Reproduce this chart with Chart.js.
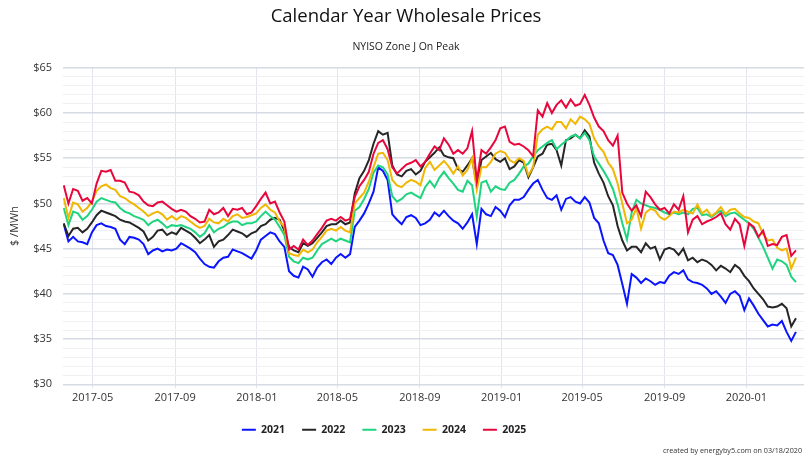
<!DOCTYPE html>
<html>
<head>
<meta charset="utf-8">
<script src="https://cdn.jsdelivr.net/npm/chart.js@4.4.1/dist/chart.umd.min.js"></script>
<style>
  html, body { margin: 0; padding: 0; background: #fff; }
  #wrap { position: relative; width: 812px; height: 456px; }
  #credits {
    position: absolute; right: 10px; bottom: 1px;
    font: 7.2px "Open Sans", sans-serif; color: #333;
  }
</style>
</head>
<body>
<div id="wrap">
  <canvas id="chart" width="812" height="456"></canvas>
  <div id="credits">created by energyby5.com on 03/18/2020</div>
</div>
<script>
// weekly samples, first one on 2017-03-19
const firstDate = '2017-03-19';
const stepDays = 7;
const seriesNames = ['2021', '2022', '2023', '2024', '2025'];
const seriesColors = ['#0a14ff', '#262626', '#1fd47f', '#f0b705', '#e8073d'];
const xTickLabels = ['2017-05', '2017-09', '2018-01', '2018-05', '2018-09', '2019-01', '2019-05', '2019-09', '2020-01'];
const yTickValues = [30, 35, 40, 45, 50, 55, 60, 65];

const cy2021 = [
  47.7, 45.8, 46.3, 45.8, 45.7, 45.5, 46.8, 47.6, 47.8, 47.5, 47.4, 47.2, 46.0, 45.5, 46.3, 46.2, 46.0, 45.5, 44.4, 44.8, 45.0, 44.7, 44.9, 44.8, 45.0,
  45.6, 45.3, 45.0, 44.6, 43.9, 43.3, 43.0, 42.9, 43.6, 44.0, 44.1, 44.9, 44.7, 44.5, 44.2, 43.9, 44.8, 46.0, 46.4, 46.8, 46.6, 45.8, 45.2, 42.5, 42.0, 41.8,
  43.0, 42.7, 41.9, 42.9, 43.5, 43.8, 43.3, 44.0, 44.4, 44.0, 44.4, 47.4, 48.1, 48.9, 50.0, 51.3, 54.0, 53.6, 52.6, 48.8, 48.2, 47.7, 48.5, 48.7, 48.4, 47.6,
  47.8, 48.2, 49.0, 48.6, 49.2, 48.6, 48.1, 47.8, 47.2, 47.9, 48.8, 45.5, 49.4, 48.8, 48.6, 49.6, 49.2, 48.5, 49.8, 50.4, 50.4, 50.7, 51.5, 52.2, 52.6, 51.5,
  50.6, 50.4, 50.9, 49.3, 50.5, 50.7, 50.2, 50.0, 50.7, 50.1, 48.4, 47.8, 45.9, 44.5, 44.3, 43.2, 41.1, 38.9, 42.2, 41.8, 41.2, 41.7, 41.4, 41.0, 41.3, 41.2, 42.0,
  42.4, 42.2, 42.6, 41.6, 41.3, 41.2, 41.0, 40.6, 40.0, 40.3, 39.7, 39.0, 40.0, 40.3, 39.8, 38.2, 39.5, 38.7, 37.8, 37.1, 36.4, 36.6, 36.5, 37.0, 35.8, 34.8, 35.8
];
const cy2022 = [
  47.8, 46.4, 47.2, 47.3, 46.8, 47.2, 47.9, 48.7, 49.2, 49.0, 48.8, 48.6, 48.2, 48.0, 47.9, 47.6, 47.3, 46.9, 45.9, 46.3, 47.0, 47.1, 46.5, 46.8, 46.6,
  47.3, 47.0, 46.7, 46.2, 45.6, 46.0, 46.5, 45.2, 45.8, 46.0, 46.5, 47.1, 46.9, 46.7, 46.3, 46.7, 46.9, 47.5, 47.7, 48.2, 48.4, 48.2, 47.0, 45.2, 44.8, 44.6,
  45.6, 45.3, 45.6, 46.2, 46.8, 47.5, 47.7, 47.7, 48.1, 47.7, 47.9, 51.1, 52.8, 53.6, 54.8, 56.6, 58.0, 57.6, 57.8, 54.2, 53.2, 53.0, 53.6, 53.8, 53.2, 53.6,
  54.6, 55.1, 55.6, 56.2, 55.3, 55.1, 55.0, 53.8, 53.5, 54.2, 55.0, 52.0, 54.8, 55.2, 55.6, 54.9, 54.6, 55.0, 53.8, 54.1, 54.8, 54.5, 52.9, 54.0, 55.2, 55.5,
  56.5, 56.6, 55.9, 54.2, 57.0, 57.2, 57.6, 57.2, 58.1, 57.4, 54.5, 53.3, 52.3, 50.8, 49.8, 47.5, 45.9, 44.8, 45.2, 45.2, 44.6, 45.6, 45.0, 45.2, 43.8, 44.9, 45.1,
  44.9, 44.3, 45.0, 43.7, 44.0, 43.5, 43.8, 43.6, 43.2, 42.6, 43.1, 42.8, 42.4, 43.2, 42.8, 42.0, 41.4, 40.6, 40.0, 39.4, 38.6, 38.5, 38.6, 38.9, 38.4, 36.4, 37.3
];
const cy2023 = [
  49.5, 47.6, 49.1, 48.9, 48.2, 48.6, 49.3, 50.2, 50.6, 50.4, 50.2, 50.1, 49.5, 49.1, 48.9, 48.6, 48.4, 48.2, 47.6, 48.0, 48.2, 47.8, 47.3, 47.6, 47.5,
  47.6, 47.4, 47.2, 46.8, 46.3, 46.7, 47.6, 46.8, 47.2, 47.4, 47.8, 48.0, 48.0, 47.6, 47.8, 47.8, 48.0, 48.6, 49.1, 48.6, 48.2, 47.4, 46.5, 44.1, 43.6, 43.4,
  44.0, 43.8, 44.0, 44.8, 45.5, 45.8, 46.1, 45.8, 46.1, 45.9, 45.7, 49.2, 49.6, 50.5, 51.6, 53.4, 54.2, 54.0, 53.2, 50.8, 50.2, 50.5, 51.0, 51.2, 50.9, 50.6,
  51.8, 52.5, 51.8, 52.8, 53.5, 52.8, 52.2, 51.5, 51.3, 52.5, 52.0, 48.5, 52.3, 52.5, 51.3, 51.9, 51.6, 51.5, 52.3, 52.6, 53.3, 54.1, 54.4, 55.2, 55.9, 56.3,
  56.7, 57.0, 56.0, 56.5, 56.9, 57.4, 57.6, 57.2, 57.8, 57.0, 55.2, 54.4, 53.6, 52.7, 51.6, 49.9, 47.8, 46.0, 49.0, 50.4, 50.0, 49.8, 49.6, 49.5, 49.3, 49.0, 48.8,
  49.0, 48.8, 49.0, 48.8, 49.4, 49.5, 48.7, 48.8, 48.5, 48.9, 49.2, 48.6, 48.9, 49.0, 48.6, 48.2, 47.8, 47.2, 46.2, 45.2, 44.0, 42.8, 43.8, 43.6, 43.2, 41.9, 41.3
];
const cy2024 = [
  50.6, 48.4, 50.1, 49.9, 49.1, 49.5, 50.2, 51.4, 51.9, 52.1, 51.7, 51.5, 50.8, 50.6, 50.2, 49.9, 49.5, 49.1, 48.6, 48.9, 49.1, 48.8, 48.2, 48.6, 48.2,
  48.6, 48.4, 48.0, 47.6, 47.3, 47.5, 48.3, 47.9, 47.8, 48.3, 48.0, 48.6, 48.8, 48.4, 48.5, 48.7, 48.9, 49.5, 49.9, 49.3, 49.0, 48.0, 47.4, 44.5, 44.3, 44.2,
  44.9, 44.6, 44.9, 45.7, 46.3, 47.0, 47.2, 47.0, 47.4, 47.0, 46.8, 50.0, 50.6, 51.2, 52.4, 54.0, 55.5, 55.6, 54.8, 52.6, 52.0, 51.8, 52.3, 52.6, 52.4, 52.0,
  53.9, 54.6, 53.7, 54.2, 54.7, 54.1, 53.3, 54.1, 53.1, 53.7, 55.0, 51.5, 54.0, 54.0, 54.6, 55.5, 55.8, 55.6, 54.8, 54.5, 55.0, 54.7, 53.1, 54.0, 57.6, 58.2,
  58.5, 58.2, 59.0, 59.0, 58.3, 59.3, 58.8, 59.6, 59.3, 58.8, 57.2, 56.3, 55.7, 54.5, 53.8, 52.2, 50.0, 47.8, 48.2, 49.5, 47.2, 49.0, 49.4, 49.2, 48.5, 48.2, 48.6,
  49.1, 49.0, 49.3, 49.1, 48.9, 49.9, 48.9, 49.3, 48.6, 49.0, 49.6, 48.8, 49.3, 49.4, 48.9, 48.5, 48.4, 48.0, 47.8, 46.6, 45.9, 46.0, 45.1, 44.8, 45.0, 42.8, 44.0
];
const cy2025 = [
  52.0, 50.0, 51.6, 51.4, 50.3, 50.6, 50.0, 52.2, 53.6, 53.5, 53.7, 52.5, 52.5, 52.3, 51.3, 51.2, 50.9, 50.2, 49.8, 49.7, 50.1, 50.2, 49.8, 49.4, 49.1,
  49.3, 49.1, 48.6, 48.3, 47.9, 48.0, 49.3, 48.8, 49.0, 49.5, 48.6, 49.4, 49.3, 49.5, 48.8, 49.0, 49.7, 50.5, 51.2, 50.0, 50.2, 49.0, 48.0, 44.9, 45.3, 44.9,
  46.0, 45.4, 45.9, 46.6, 47.3, 48.1, 48.3, 48.1, 48.5, 48.1, 48.3, 50.7, 51.9, 52.6, 53.5, 55.5, 56.7, 57.0, 56.0, 54.0, 53.3, 53.8, 54.3, 54.5, 54.8, 54.1,
  54.6, 55.5, 56.3, 55.9, 57.2, 56.5, 55.5, 55.9, 55.5, 56.1, 58.0, 52.5, 55.9, 55.5, 56.2, 57.0, 58.3, 58.5, 56.8, 56.5, 56.6, 56.3, 55.9, 55.2, 60.3, 59.6,
  61.1, 60.0, 60.9, 61.4, 60.6, 61.5, 60.8, 61.0, 62.0, 60.9, 59.5, 58.5, 58.0, 57.0, 56.4, 57.5, 51.2, 50.0, 49.2, 49.8, 48.6, 51.3, 50.7, 49.9, 49.3, 49.5, 48.9,
  49.9, 49.3, 50.8, 46.8, 48.2, 48.6, 47.7, 48.0, 48.2, 48.5, 48.9, 47.7, 47.1, 48.3, 47.7, 45.3, 47.8, 47.4, 46.3, 47.0, 45.3, 45.5, 45.4, 46.3, 46.5, 44.2, 44.8
];
const seriesValues = [cy2021, cy2022, cy2023, cy2024, cy2025];

const DAY = 86400000;
const toDay = s => Date.parse(s + 'T00:00:00Z') / DAY;
const dayLabel = d => new Date(d * DAY).toISOString().slice(0, 7);
const start = toDay(firstDate);
const FONT = '"Open Sans", "DejaVu Sans", sans-serif';

// the legend in the original sits a bit left of centre
const legendShift = {
  id: 'legendShift',
  afterLayout(chart) {
    chart.legend.left -= 22;
    chart.legend.right -= 22;
  }
};

new Chart(document.getElementById('chart'), {
  type: 'line',
  data: {
    datasets: seriesNames.map((name, k) => ({
      label: name,
      data: seriesValues[k].map((v, i) => ({x: start + i * stepDays, y: v})),
      borderColor: seriesColors[k],
      backgroundColor: seriesColors[k],
      borderWidth: 2,
      pointRadius: 0,
      tension: 0,
      order: seriesNames.length - k
    }))
  },
  options: {
    responsive: false,
    animation: false,
    layout: {padding: {left: 8, right: 8, top: 4, bottom: 11}},
    plugins: {
      title: {
        display: true,
        text: 'Calendar Year Wholesale Prices',
        color: '#111',
        font: {family: FONT, size: 18.5, weight: 'normal'},
        padding: {top: 2, bottom: 13}
      },
      subtitle: {
        display: true,
        text: 'NYISO Zone J On Peak',
        color: '#222',
        font: {family: FONT, size: 10.5},
        padding: {bottom: 14}
      },
      legend: {
        position: 'bottom',
        labels: {
          usePointStyle: true,
          pointStyle: 'line',
          pointStyleWidth: 14,
          padding: 17,
          color: '#222',
          font: {family: FONT, size: 10.5, weight: 'bold'},
          sort: (a, b) => a.datasetIndex - b.datasetIndex
        }
      },
      tooltip: {enabled: false}
    },
    scales: {
      x: {
        type: 'linear',
        min: toDay('2017-03-18'),
        max: toDay('2020-03-27'),
        afterBuildTicks: axis => {
          axis.ticks = xTickLabels.map(l => ({value: toDay(l + '-01')}));
        },
        ticks: {
          autoSkip: false,
          maxRotation: 0,
          color: '#333',
          font: {family: FONT, size: 11},
          callback: v => dayLabel(v)
        },
        grid: {color: '#e2e5ed', tickLength: 4},
        border: {display: false}
      },
      y: {
        min: 30,
        max: 65,
        afterBuildTicks: axis => {
          const t = [];
          for (let v = 30; v <= 65; v++) t.push({value: v});
          axis.ticks = t;
        },
        ticks: {
          autoSkip: false,
          padding: 11,
          color: '#333',
          font: {family: FONT, size: 11},
          callback: v => yTickValues.includes(v) ? '$' + v : ''
        },
        grid: {
          color: c => c.tick && c.tick.value % 5 === 0 ? '#d6dae3' : '#eef0f4',
          lineWidth: c => c.tick && c.tick.value % 5 === 0 ? 1.5 : 1,
          drawTicks: false
        },
        border: {display: false},
        title: {
          display: true,
          text: '$ /MWh',
          color: '#333',
          font: {family: FONT, size: 11},
          padding: {top: 0, bottom: 1}
        }
      }
    }
  },
  plugins: [legendShift]
});
</script>
</body>
</html>
